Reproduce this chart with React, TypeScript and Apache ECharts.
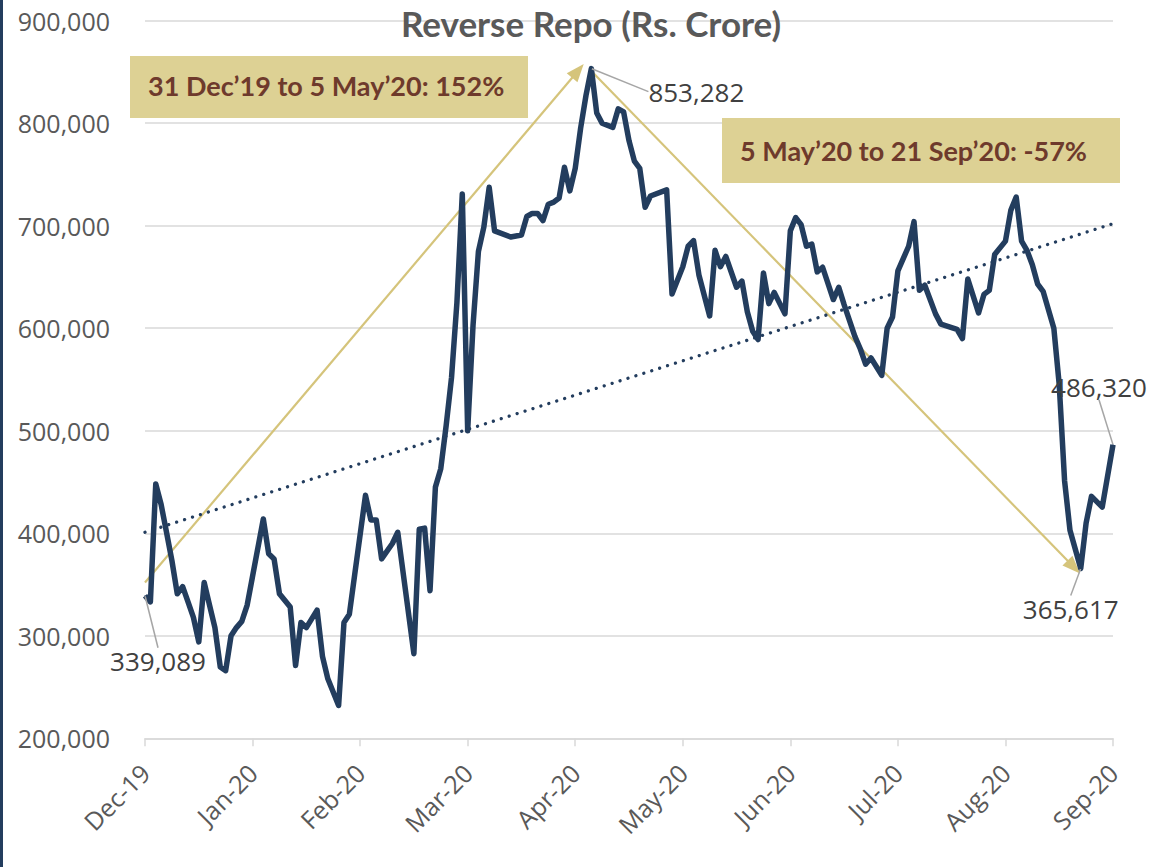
import React, { useEffect, useRef } from "react";
import * as echarts from "echarts";

// Trading-day index (0 = 31 Dec 2019, 180 = 21 Sep 2020) and reverse repo balance (Rs. crore)
const days = [
  0, 1, 2, 3, 4, 5, 6, 7, 8, 9, 10, 11, 12, 13, 14, 15, 16, 17, 18, 19,
  22, 23, 24, 25, 27, 28, 29, 30, 32, 33, 34, 36, 37, 38, 39, 41, 42, 43, 44, 46,
  47, 50, 51, 52, 53, 54, 55, 56, 57, 58, 59, 60, 61, 62, 63, 64, 65, 68, 70, 71,
  72, 73, 74, 75, 76, 77, 78, 79, 80, 81, 82, 83, 84, 85, 87, 88, 89, 90, 91, 92,
  93, 94, 97, 98, 100, 101, 102, 103, 105, 106, 107, 108, 110, 111, 112, 113, 114, 115, 116, 117,
  119, 120, 121, 122, 123, 124, 125, 126, 128, 129, 130, 132, 133, 134, 135, 137, 138, 139, 140, 142,
  143, 144, 145, 147, 148, 151, 152, 153, 155, 156, 157, 158, 160, 161, 162, 163, 164, 165, 166, 167,
  169, 170, 171, 172, 174, 175, 176, 178, 180,
];
const reverseRepo = [
  339089, 333000, 448000, 428000, 401000, 373500, 341000, 348000, 333000, 318000, 294000, 352000, 330000, 308000, 269500, 266000, 300000, 308000, 314000, 330000,
  414000, 380000, 375000, 341000, 328000, 271000, 313000, 308000, 325000, 280000, 258000, 232000, 313000, 321000, 360000, 437000, 413000, 413000, 375000, 390000,
  401000, 282500, 404000, 405000, 344000, 445000, 463000, 505000, 552000, 625000, 731000, 500000, 603000, 675000, 698500, 737500, 695000, 689000, 691000, 709000,
  712000, 712000, 705000, 721000, 723000, 727000, 757000, 734000, 756000, 795000, 827000, 853282, 810000, 800000, 796000, 814000, 811000, 783000, 763000, 756000,
  718000, 729000, 735000, 633500, 660000, 680000, 685500, 652000, 612000, 676000, 660000, 670000, 640000, 646000, 616000, 597000, 589000, 654000, 624000, 635000,
  614000, 695000, 708000, 701000, 680000, 682000, 655000, 659500, 628000, 640000, 623000, 592000, 580000, 565000, 571000, 554000, 600000, 611000, 656000, 680000,
  704000, 637000, 642000, 614000, 604000, 599000, 590000, 648000, 615000, 633000, 637000, 672000, 685000, 715000, 728000, 685000, 676000, 662000, 643000, 636000,
  600000, 545000, 451000, 403000, 365617, 410000, 436000, 425500, 486320,
];
const monthLabels = ["Dec-19", "Jan-20", "Feb-20", "Mar-20", "Apr-20", "May-20", "Jun-20", "Jul-20", "Aug-20", "Sep-20"];
const yTicks = [200000, 300000, 400000, 500000, 600000, 700000, 800000, 900000];

// Linear trend line (Excel trendline) end points
const trendDays = [0, 180];
const trendValues = [401000, 702000];

// Annotated points (trading-day index)
const labelledDays = [0, 83, 174, 180];

// Arrow annotations [day, value]
const arrowUp = [[0, 352000], [80.5, 851000]];
const arrowDown = [[83, 851000], [172.7, 367000]];

const annotations = ["31 Dec\u201919 to 5 May\u201920: 152%", "5 May\u201920 to 21 Sep\u201920: -57%"];

const NAVY = "#233d5e";
const GOLD = "#d5c47b";
const BOX = "#ddd194";
const BROWN = "#6e3a2c";
const GREY = "#595959";

// label offsets from the point (px) - styling only
const labelOffsets: Record<number, [number, number]> = {
  0: [13, 65],
  83: [105, 23],
  174: [-10, 40],
  180: [-14, -58],
};

export default function App() {
  const ref = useRef<HTMLDivElement>(null);
  useEffect(() => {
    if (!ref.current) return;
    const chart = echarts.init(ref.current, null, { renderer: "svg" });
    const data = days.map((d, i) => {
      const item: any = { value: [d, reverseRepo[i]] };
      if (labelledDays.includes(d)) {
        item.label = {
          show: true,
          position: "inside",
          formatter: (p: any) => p.value[1].toLocaleString("en-US"),
        };
      }
      return item;
    });
    chart.setOption({
      animation: false,
      title: {
        text: "Reverse Repo (Rs. Crore)",
        left: 586,
        top: 0,
        textAlign: "center",
        textStyle: { fontFamily: "Lato", fontWeight: "bold", fontSize: 35, color: GREY },
      },
      grid: { left: 145, right: 48, top: 20.7, bottom: 128.7, containLabel: false },
      xAxis: {
        type: "value",
        min: 0,
        max: 180,
        interval: 20,
        axisLine: { show: true, lineStyle: { color: "#d9d9d9", width: 1.5 } },
        axisTick: { show: true, length: 8, lineStyle: { color: "#d9d9d9", width: 1.5 } },
        splitLine: { show: false },
        axisLabel: {
          rotate: 45,
          margin: 30,
          color: GREY,
          fontFamily: "Open Sans",
          fontSize: 25,
          formatter: (v: number) => monthLabels[Math.round(v / 20)] ?? "",
        },
      },
      yAxis: {
        type: "value",
        min: yTicks[0],
        max: yTicks[yTicks.length - 1],
        interval: 100000,
        axisLine: { show: false },
        axisTick: { show: false },
        splitLine: { lineStyle: { color: "#d9d9d9", width: 1.5 } },
        axisLabel: {
          margin: 35,
          color: GREY,
          fontFamily: "Open Sans",
          fontSize: 25,
          formatter: (v: number) => v.toLocaleString("en-US"),
        },
      },
      series: [
        {
          name: "Trend",
          type: "line",
          data: trendDays.map((d, i) => [d, trendValues[i]]),
          showSymbol: false,
          silent: true,
          lineStyle: { color: NAVY, width: 3.3, type: [0.01, 8.3], cap: "round" },
          z: 2,
          markLine: {
            silent: true,
            symbol: ["none", "triangle"],
            symbolSize: [14, 18],
            label: { show: false },
            lineStyle: { color: GOLD, width: 2.2, type: "solid" },
            emphasis: { disabled: true },
            z: 1,
            data: [
              [{ coord: arrowUp[0] }, { coord: arrowUp[1] }],
              [{ coord: arrowDown[0] }, { coord: arrowDown[1] }],
            ],
          },
        },
        {
          name: "Reverse Repo",
          type: "line",
          data,
          showSymbol: true,
          showAllSymbol: true,
          symbol: "circle",
          symbolSize: 1,
          itemStyle: { color: NAVY },
          lineStyle: { color: NAVY, width: 5.5, join: "round" },
          silent: true,
          z: 3,
          label: {
            color: "#404040",
            fontFamily: "Open Sans",
            fontSize: 26,
          },
          labelLine: { show: true, lineStyle: { color: "#a6a6a6", width: 1.5 } },
          labelLayout: (p: any) => {
            const d = days[p.dataIndex];
            const off = labelOffsets[d];
            if (!off) return {};
            const cx = p.rect.x + p.rect.width / 2;
            const cy = p.rect.y + p.rect.height / 2;
            return { x: cx + off[0], y: cy + off[1], align: "center", verticalAlign: "middle" };
          },
        },
      ],
      graphic: [
        { type: "rect", left: 0, top: 0, shape: { width: 3, height: 867 }, style: { fill: NAVY } },
        { type: "rect", x: 130, y: 56, shape: { width: 398, height: 62 }, style: { fill: BOX }, z: 10 },
        {
          type: "text",
          x: 148,
          y: 85,
          z: 11,
          style: { text: annotations[0], fill: BROWN, font: "bold 27px Lato", textVerticalAlign: "middle" },
        },
        { type: "rect", x: 722, y: 118, shape: { width: 398, height: 65 }, style: { fill: BOX }, z: 10 },
        {
          type: "text",
          x: 740,
          y: 150,
          z: 11,
          style: { text: annotations[1], fill: BROWN, font: "bold 27px Lato", textVerticalAlign: "middle" },
        },
      ],
    });
    return () => chart.dispose();
  }, []);
  return (
    <div
      ref={ref}
      style={{ position: "absolute", left: 0, top: 0, width: 1161, height: 867, background: "#fff" }}
    />
  );
}
